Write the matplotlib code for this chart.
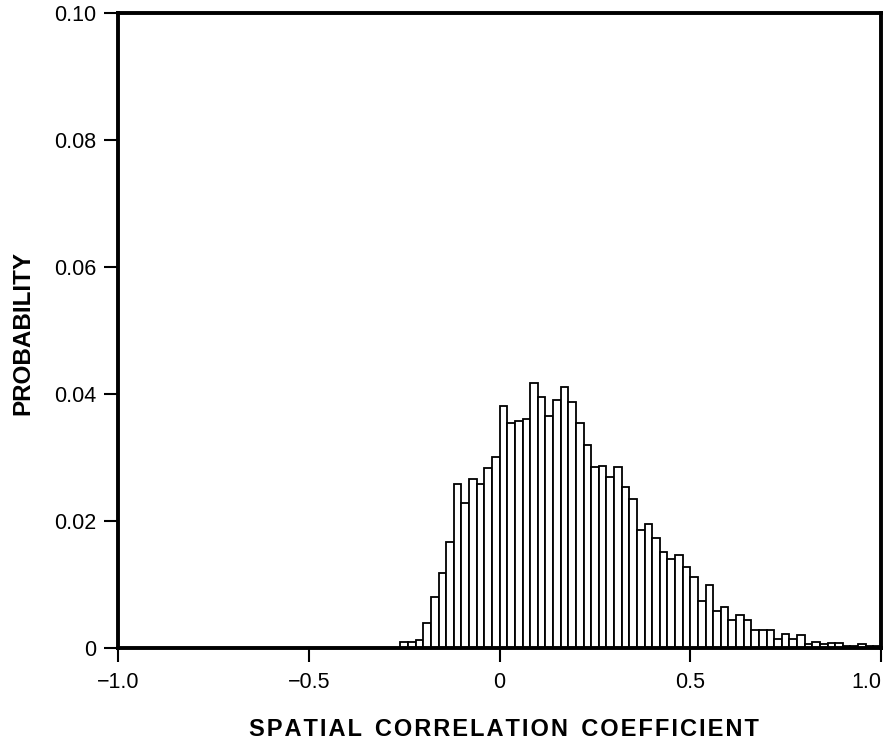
import numpy as np
import matplotlib
matplotlib.use("Agg")
import matplotlib.pyplot as plt

plt.rcParams['font.family'] = ['Liberation Sans', 'DejaVu Sans']

# histogram of spatial correlation coefficients, bins 0.02 wide starting at -0.26
bin_start = -0.26
bin_width = 0.02
probability = [
    0.0009, 0.0010, 0.0013, 0.0039, 0.0081, 0.0118, 0.0167, 0.0258, 0.0228, 0.0266,
    0.0258, 0.0284, 0.0301, 0.0382, 0.0354, 0.0358, 0.0361, 0.0418, 0.0395, 0.0366,
    0.0390, 0.0411, 0.0388, 0.0354, 0.0320, 0.0285, 0.0287, 0.0269, 0.0285, 0.0254,
    0.0235, 0.0186, 0.0195, 0.0173, 0.0152, 0.0140, 0.0147, 0.0128, 0.0112, 0.0075,
    0.0100, 0.0058, 0.0064, 0.0045, 0.0052, 0.0045, 0.0028, 0.0029, 0.0028, 0.0015,
    0.0023, 0.0014, 0.0020, 0.0006, 0.0009, 0.0006, 0.0008, 0.0008, 0.0004, 0.0003,
    0.0006, 0.0003, 0.0003,
]

x_ticks = [-1.0, -0.5, 0, 0.5, 1.0]
x_labels = ['\u22121.0', '\u22120.5', '0', '0.5', '1.0']
y_ticks = [0, 0.02, 0.04, 0.06, 0.08, 0.10]
y_labels = ['0', '0.02', '0.04', '0.06', '0.08', '0.10']
x_title = 'SPATIAL CORRELATION COEFFICIENT'
y_title = 'PROBABILITY'

edges = bin_start + bin_width * np.arange(len(probability))

fig = plt.figure(figsize=(8.89, 7.45), dpi=100)
ax = fig.add_axes([0.133, 0.130, 0.858, 0.8526])

ax.bar(edges, probability, width=bin_width, align='edge',
       facecolor='white', edgecolor='black', linewidth=1.3)

ax.set_xlim(-1.0, 1.0)
ax.set_ylim(0, 0.10)
ax.set_xticks(x_ticks)
ax.set_xticklabels(x_labels)
ax.set_yticks(y_ticks)
ax.set_yticklabels(y_labels)
ax.get_xticklabels()[-1].set_horizontalalignment('right')

for s in ax.spines.values():
    s.set_linewidth(2.8)

ax.tick_params(direction='out', length=10, width=1.5, labelsize=15.5)
ax.tick_params(axis='x', pad=7)
ax.tick_params(axis='y', pad=6)

# letter-spaced title, like the original typesetting
spaced = '  '.join('\u200a'.join(w) for w in x_title.split(' '))
fig.text(0.5665, 1 - 729 / 745, spaced,
         fontsize=17, fontweight='bold', ha='center', va='center')
fig.text(0.026, 1 - 333 / 745, y_title, fontsize=17.5,
         fontweight='bold', rotation=90, ha='center', va='center')

fig.savefig('out.png', dpi=100)
